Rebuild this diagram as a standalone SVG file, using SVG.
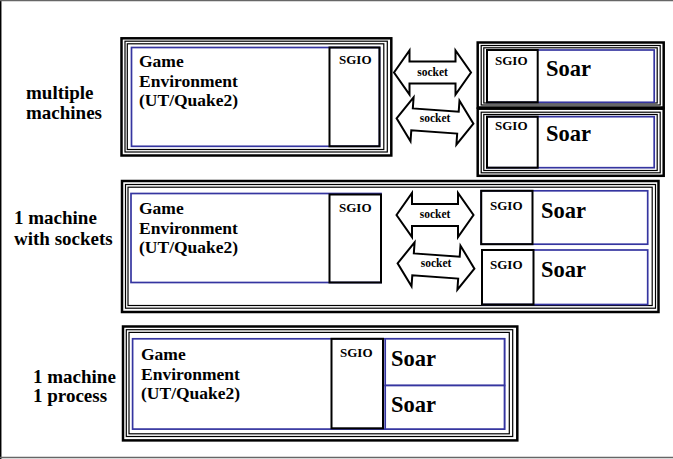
<svg xmlns="http://www.w3.org/2000/svg" width="673" height="459" viewBox="0 0 673 459">
<style>
text{font-family:"Liberation Serif","Times New Roman",serif;font-weight:bold;fill:#000}
.lbl{font-size:19px}
.ge{font-size:17.5px}
.sg{font-size:13px}
.so{font-size:22.5px}
.sk{font-size:11.5px}
.o1{fill:none;stroke:#000;stroke-width:2.5}
.o2{fill:none;stroke:#000;stroke-width:1.2}
.bl{fill:#fff;stroke:#3535a0;stroke-width:1.7}
.sgb{fill:none;stroke:#000;stroke-width:2}
.arr{fill:#fff;stroke:#000;stroke-width:2;stroke-linejoin:miter}
</style>
<defs>
<path id="dbl" class="arr" d="M-38.5,0 L-23,-22 L-23,-11 L23,-11 L23,-22 L38.5,0 L23,22 L23,11 L-23,11 L-23,22 Z"/>
</defs>
<rect x="0" y="0" width="673" height="459" fill="#fff"/>
<g id="frame">
<line x1="0.7" y1="0" x2="0.7" y2="459" stroke="#000" stroke-width="1.5"/>
<line x1="0" y1="0.6" x2="673" y2="0.6" stroke="#666" stroke-width="1.2"/>
<line x1="0" y1="457.6" x2="673" y2="457.6" stroke="#666" stroke-width="1.5"/>
</g>
<g id="labels">
<text class="lbl" x="26" y="99">multiple</text>
<text class="lbl" x="26" y="119">machines</text>
<text class="lbl" x="14" y="224">1 machine</text>
<text class="lbl" x="14" y="245">with sockets</text>
<text class="lbl" x="33" y="383">1 machine</text>
<text class="lbl" x="33" y="402">1 process</text>
</g>
<g id="row1-game">
<rect class="o1" x="121.5" y="38.3" width="269.8" height="117.2"/>
<rect class="o2" x="125" y="41.2" width="262.3" height="110.8"/>
<rect class="o2" x="127.3" y="43.8" width="256.5" height="105.7"/>
<rect class="bl" x="131.5" y="47.5" width="248" height="98.8"/>
<rect class="sgb" x="329.5" y="47.5" width="50" height="98.8"/>
<text class="ge" x="139" y="67">Game</text>
<text class="ge" x="139" y="86.5">Environment</text>
<text class="ge" x="139" y="106">(UT/Quake2)</text>
<text class="sg" x="339" y="64">SGIO</text>
</g>
<g id="row1-soar-a">
<rect class="o1" x="477.7" y="42.5" width="186" height="65"/>
<rect class="o2" x="481.2" y="45.5" width="179" height="59.5"/>
<rect class="o2" x="483.8" y="47.8" width="173.4" height="55.2"/>
<rect class="bl" x="487" y="50" width="167.2" height="52.3"/>
<rect class="sgb" x="487" y="50" width="50.7" height="52.3"/>
<text class="sg" x="495" y="65">SGIO</text>
<text class="so" x="546" y="76">Soar</text>
</g>
<g id="row1-soar-b">
<rect class="o1" x="477.7" y="108.7" width="186" height="67.1"/>
<rect class="o2" x="481.2" y="112.2" width="179" height="60.6"/>
<rect class="o2" x="483.8" y="114.5" width="173.4" height="56"/>
<rect class="bl" x="487" y="116.7" width="167.2" height="51"/>
<rect class="sgb" x="487" y="116.7" width="50.7" height="51"/>
<text class="sg" x="495" y="130">SGIO</text>
<text class="so" x="546" y="141">Soar</text>
</g>
<g id="row2-machine">
<rect class="o1" x="122" y="181" width="536.5" height="131"/>
<rect class="o2" x="125.5" y="184.5" width="530" height="123.7"/>
<rect class="o2" x="128" y="187.2" width="524.2" height="118.3"/>
</g>
<g id="row2-game">
<rect class="bl" x="131" y="193.5" width="250" height="89"/>
<rect class="sgb" x="329.5" y="194.5" width="51.5" height="88"/>
<text class="ge" x="139" y="214">Game</text>
<text class="ge" x="139" y="233.5">Environment</text>
<text class="ge" x="139" y="253">(UT/Quake2)</text>
<text class="sg" x="339" y="212">SGIO</text>
</g>
<g id="row2-soar-c">
<rect class="bl" x="481.2" y="190.8" width="166.5" height="53.4"/>
<rect class="sgb" x="481.2" y="190.8" width="51.3" height="53.4"/>
<text class="sg" x="490" y="210">SGIO</text>
<text class="so" x="541" y="218">Soar</text>
</g>
<g id="row2-soar-d">
<rect class="bl" x="482" y="250" width="165.7" height="54.5"/>
<rect class="sgb" x="482" y="250" width="51.5" height="54.5"/>
<text class="sg" x="490" y="269">SGIO</text>
<text class="so" x="541" y="277">Soar</text>
</g>
<g id="row3-process">
<rect class="o1" x="123" y="326.5" width="394.3" height="113.9"/>
<rect class="o2" x="126.3" y="329.7" width="386.4" height="106.8"/>
<rect class="o2" x="129" y="332.4" width="380.3" height="101.4"/>
<rect class="bl" x="132.6" y="338.8" width="371.9" height="90.3"/>
<rect class="sgb" x="331.5" y="338.8" width="51.5" height="89.5"/>
<text class="ge" x="141" y="360">Game</text>
<text class="ge" x="141" y="379.5">Environment</text>
<text class="ge" x="141" y="399">(UT/Quake2)</text>
<text class="sg" x="340" y="357">SGIO</text>
</g>
<g id="row3-soar-1">
<rect class="bl" x="385.2" y="338.8" width="119.3" height="46.7"/>
<text class="so" x="391" y="366">Soar</text>
</g>
<g id="row3-soar-2">
<rect class="bl" x="385.2" y="385.5" width="119.3" height="43.6"/>
<text class="so" x="391" y="412">Soar</text>
</g>
<g id="connectors">
<use href="#dbl" transform="translate(432.5,72.5)"/>
<use href="#dbl" transform="translate(435,121) rotate(4)"/>
<use href="#dbl" transform="translate(435,215)"/>
<use href="#dbl" transform="translate(436,266) rotate(4)"/>
<text class="sk" x="432.5" y="76" text-anchor="middle">socket</text>
<text class="sk" x="435" y="122" text-anchor="middle">socket</text>
<text class="sk" x="435" y="218" text-anchor="middle">socket</text>
<text class="sk" x="436" y="267" text-anchor="middle">socket</text>
</g>
</svg>
